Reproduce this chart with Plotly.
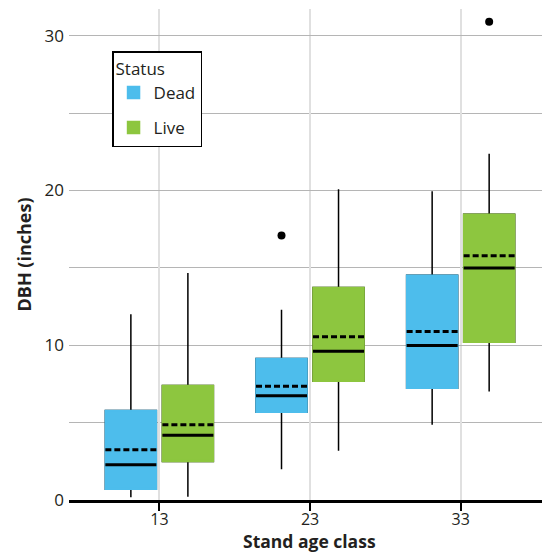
import plotly.graph_objects as go

# ---- data ----
age_classes = ["13", "23", "33"]
statuses = ["Dead", "Live"]

dead_lower = [0.17, 1.98, 4.87]
dead_q1 = [0.69, 5.67, 7.22]
dead_median = [2.28, 6.73, 9.99]
dead_mean = [3.24, 7.35, 10.89]
dead_q3 = [5.78, 9.15, 14.52]
dead_upper = [12.0, 12.30, 19.95]

live_lower = [0.21, 3.19, 7.01]
live_q1 = [2.48, 7.68, 10.2]
live_median = [4.18, 9.62, 14.99]
live_mean = [4.87, 10.55, 15.79]
live_q3 = [7.40, 13.74, 18.47]
live_upper = [14.67, 20.08, 22.37]

dead_outlier_x = ["23"]
dead_outlier_y = [17.1]
live_outlier_x = ["33"]
live_outlier_y = [30.9]

colors = {"Dead": "#4DBDEC", "Live": "#8DC63F"}

stats = {
    "Dead": (dead_lower, dead_q1, dead_median, dead_mean, dead_q3, dead_upper,
             dead_outlier_x, dead_outlier_y),
    "Live": (live_lower, live_q1, live_median, live_mean, live_q3, live_upper,
             live_outlier_x, live_outlier_y),
}

FONT = "Open Sans, Noto Sans, sans-serif"
fig = go.Figure()

for s in statuses:
    lo, q1, med, mean, q3, up, ox, oy = stats[s]
    col = colors[s]
    # whiskers (black)
    fig.add_trace(go.Box(
        x=age_classes, q1=q1, median=med, q3=q3, lowerfence=lo, upperfence=up,
        name=s, legendgroup=s, showlegend=False, offsetgroup=s,
        line=dict(color="black", width=1.5), fillcolor=col,
        whiskerwidth=0, hoverinfo="skip",
    ))
    # coloured box without outline
    fig.add_trace(go.Box(
        x=age_classes, q1=q1, median=q1, q3=q3, lowerfence=q1, upperfence=q3,
        name=s, legendgroup=s, showlegend=True, offsetgroup=s,
        line=dict(color=col, width=1.5), fillcolor=col,
        whiskerwidth=0, hoverinfo="skip",
    ))
    # median (solid) and mean (dashed)
    fig.add_trace(go.Box(
        x=age_classes, q1=med, median=med, q3=med, lowerfence=med, upperfence=med,
        mean=mean, boxmean=True,
        name=s, legendgroup=s, showlegend=False, offsetgroup=s,
        line=dict(color="black", width=3), fillcolor="rgba(0,0,0,0)",
        whiskerwidth=0, hoverinfo="skip",
    ))
    # outliers
    fig.add_trace(go.Scatter(
        x=ox, y=oy, mode="markers", offsetgroup=s,
        marker=dict(color="black", size=8),
        name=s, legendgroup=s, showlegend=False, hoverinfo="skip",
    ))

fig.update_layout(
    width=542, height=552,
    margin=dict(l=69, r=0, t=9, b=52),
    paper_bgcolor="white", plot_bgcolor="white",
    boxmode="group", boxgap=0.243, boxgroupgap=0.105,
    scattermode="group", scattergap=0.243,
    font=dict(family=FONT, size=17, color="#231F20"),
    legend=dict(
        title=dict(text="Status", font=dict(size=17)),
        x=0.091, y=0.914, xanchor="left", yanchor="top",
        bgcolor="white", bordercolor="black", borderwidth=1.5,
        font=dict(size=17), tracegroupgap=10,
    ),
    xaxis=dict(
        type="category", categoryorder="array", categoryarray=age_classes,
        range=[-0.6, 2.54],
        showgrid=True, gridcolor="#E0E0E0", gridwidth=2,
        showline=True, linecolor="black", linewidth=3,
        ticks="outside", ticklen=8, tickwidth=1.5, tickcolor="black",
        ticklabelstandoff=-5,
        tickfont=dict(size=16), zeroline=False, automargin=False,
    ),
    yaxis=dict(
        range=[0, 31.73],
        tickvals=[0, 10, 20, 30],
        showgrid=True, gridcolor="#B5B5B5", gridwidth=1,
        minor=dict(dtick=5, showgrid=True, gridcolor="#B5B5B5", gridwidth=1),
        showline=False, zeroline=False, ticks="",
        ticklabelstandoff=4,
        title=dict(text="<b>DBH (inches)</b>", font=dict(size=18), standoff=8),
        tickfont=dict(size=17), automargin=False,
    ),
    annotations=[dict(
        text="<b>Stand age class</b>", xref="paper", yref="paper",
        x=0.5095, y=-52 / 490.5, xanchor="center", yanchor="bottom",
        yshift=-3, showarrow=False, font=dict(size=17.5),
    )],
)

fig.write_html(
    "out.html",
    config={"displayModeBar": False},
    post_script="document.body.style.margin='0';document.body.style.overflow='hidden';",
)
